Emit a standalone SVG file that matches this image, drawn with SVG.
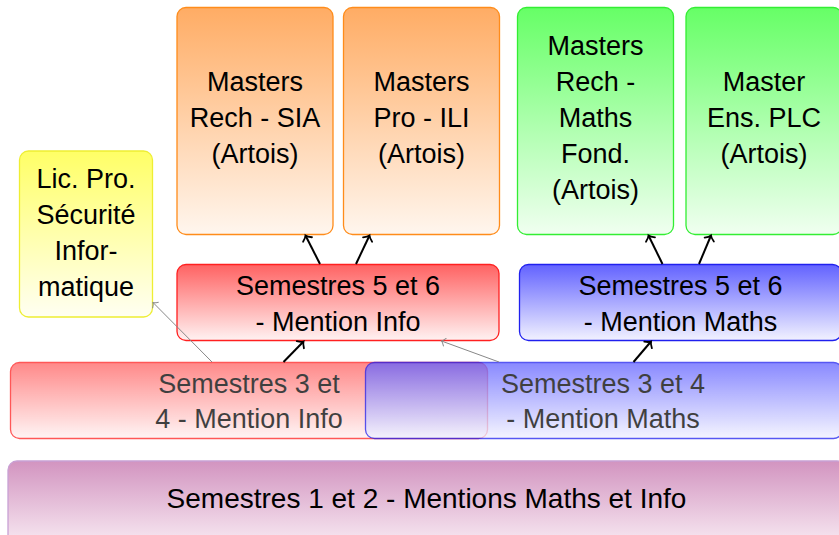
<svg xmlns="http://www.w3.org/2000/svg" width="839" height="535" viewBox="0 0 839 535">
<defs>
<linearGradient id="gOrange" x1="0" y1="0" x2="0" y2="1"><stop offset="0" stop-color="#FFAC64"/><stop offset="1" stop-color="#FFF6EE"/></linearGradient>
<linearGradient id="gGreen" x1="0" y1="0" x2="0" y2="1"><stop offset="0" stop-color="#66FF66"/><stop offset="1" stop-color="#F0FFF0"/></linearGradient>
<linearGradient id="gYellow" x1="0" y1="0" x2="0" y2="1"><stop offset="0" stop-color="#FFFF66"/><stop offset="1" stop-color="#FFFFF2"/></linearGradient>
<linearGradient id="gRed" x1="0" y1="0" x2="0" y2="1"><stop offset="0" stop-color="#FF6262"/><stop offset="1" stop-color="#FFF2F2"/></linearGradient>
<linearGradient id="gBlue" x1="0" y1="0" x2="0" y2="1"><stop offset="0" stop-color="#6262FF"/><stop offset="1" stop-color="#F2F2FF"/></linearGradient>
<linearGradient id="gViolet" x1="0" y1="0" x2="0" y2="1"><stop offset="0" stop-color="#D294C0"/><stop offset="1" stop-color="#FBF0F6"/></linearGradient>
<marker id="tipBlack" viewBox="-10 -10 20 20" markerWidth="20" markerHeight="20" refX="0" refY="0" orient="auto" markerUnits="userSpaceOnUse">
<path d="M -4.5 -5 Q -2 -1 0 0 Q -2 1 -4.5 5" fill="none" stroke="#000" stroke-width="1.8" stroke-linecap="round"/>
</marker>
<marker id="tipGray" viewBox="-10 -10 20 20" markerWidth="20" markerHeight="20" refX="0" refY="0" orient="auto" markerUnits="userSpaceOnUse">
<path d="M -3.5 -4 Q -1.5 -0.8 0 0 Q -1.5 0.8 -3.5 4" fill="none" stroke="#888" stroke-width="1" stroke-linecap="round"/>
</marker>
</defs>
<style>
text { font-family: "Liberation Sans", Arial, sans-serif; font-size: 27px; fill: #000; text-anchor: middle; }
.wide { font-size: 28px; }
.box { stroke-width: 1.3; }
.orange { fill: url(#gOrange); stroke: #FF8C1A; }
.green { fill: url(#gGreen); stroke: #33EE33; }
.yellow { fill: url(#gYellow); stroke: #EEEE33; }
.red { fill: url(#gRed); stroke: #FF2020; }
.blue { fill: url(#gBlue); stroke: #2020EE; }
.violet { fill: url(#gViolet); stroke: #C8A0D4; }
.faded { opacity: 0.75; }
.arrow { stroke: #000; stroke-width: 2; fill: none; marker-end: url(#tipBlack); }
.garrow { stroke: #888; stroke-width: 1; fill: none; marker-end: url(#tipGray); }
</style>

<g id="sem12">
<rect class="box violet" x="8" y="461" width="838" height="90" rx="9"/>
<text class="wide" x="426.5" y="508">Semestres 1 et 2 - Mentions Maths et Info</text>
</g>

<g id="sem34info" class="faded">
<rect class="box red" x="10.5" y="362.5" width="477" height="76" rx="9"/>
<text x="249" y="393">Semestres 3 et</text>
<text x="249" y="428">4 - Mention Info</text>
</g>

<g id="sem34maths" class="faded">
<rect class="box blue" x="365.5" y="362.5" width="477" height="76" rx="9"/>
<text x="603" y="393">Semestres 3 et 4</text>
<text x="603" y="428">- Mention Maths</text>
</g>

<g id="sem56info">
<rect class="box red" x="177" y="264.5" width="322" height="76" rx="9"/>
<text x="338" y="295">Semestres 5 et 6</text>
<text x="338" y="331">- Mention Info</text>
</g>

<g id="sem56maths">
<rect class="box blue" x="519.5" y="264.5" width="322" height="76" rx="9"/>
<text x="680.5" y="295">Semestres 5 et 6</text>
<text x="680.5" y="331">- Mention Maths</text>
</g>

<g id="licpro">
<rect class="box yellow" x="19.5" y="151" width="133" height="166" rx="9"/>
<text x="86" y="188">Lic. Pro.</text>
<text x="86" y="224">Sécurité</text>
<text x="86" y="260">Infor-</text>
<text x="86" y="296">matique</text>
</g>

<g id="masterSIA">
<rect class="box orange" x="177" y="7.5" width="156" height="227" rx="9"/>
<text x="255" y="91">Masters</text>
<text x="255" y="127">Rech - SIA</text>
<text x="255" y="163">(Artois)</text>
</g>

<g id="masterILI">
<rect class="box orange" x="343.5" y="7.5" width="156" height="227" rx="9"/>
<text x="421.5" y="91">Masters</text>
<text x="421.5" y="127">Pro - ILI</text>
<text x="421.5" y="163">(Artois)</text>
</g>

<g id="masterMaths">
<rect class="box green" x="517.5" y="7.5" width="156" height="227" rx="9"/>
<text x="595.5" y="55">Masters</text>
<text x="595.5" y="91">Rech -</text>
<text x="595.5" y="127">Maths</text>
<text x="595.5" y="163">Fond.</text>
<text x="595.5" y="199">(Artois)</text>
</g>

<g id="masterPLC">
<rect class="box green" x="686" y="7.5" width="156" height="227" rx="9"/>
<text x="764" y="91">Master</text>
<text x="764" y="127">Ens. PLC</text>
<text x="764" y="163">(Artois)</text>
</g>

<g id="connectors">
<line class="arrow" x1="320" y1="264" x2="305.5" y2="235.5"/>
<line class="arrow" x1="356" y1="264" x2="369.5" y2="235.5"/>
<line class="arrow" x1="662.5" y1="264" x2="648.5" y2="235.5"/>
<line class="arrow" x1="699" y1="264" x2="711" y2="235.5"/>
<line class="arrow" x1="283.5" y1="362" x2="303.5" y2="341.5"/>
<line class="arrow" x1="633.5" y1="362" x2="651" y2="341.5"/>
<line class="garrow" x1="212" y1="362" x2="153" y2="302.5"/>
<line class="garrow" x1="499" y1="362" x2="441.5" y2="341"/>
</g>
</svg>
